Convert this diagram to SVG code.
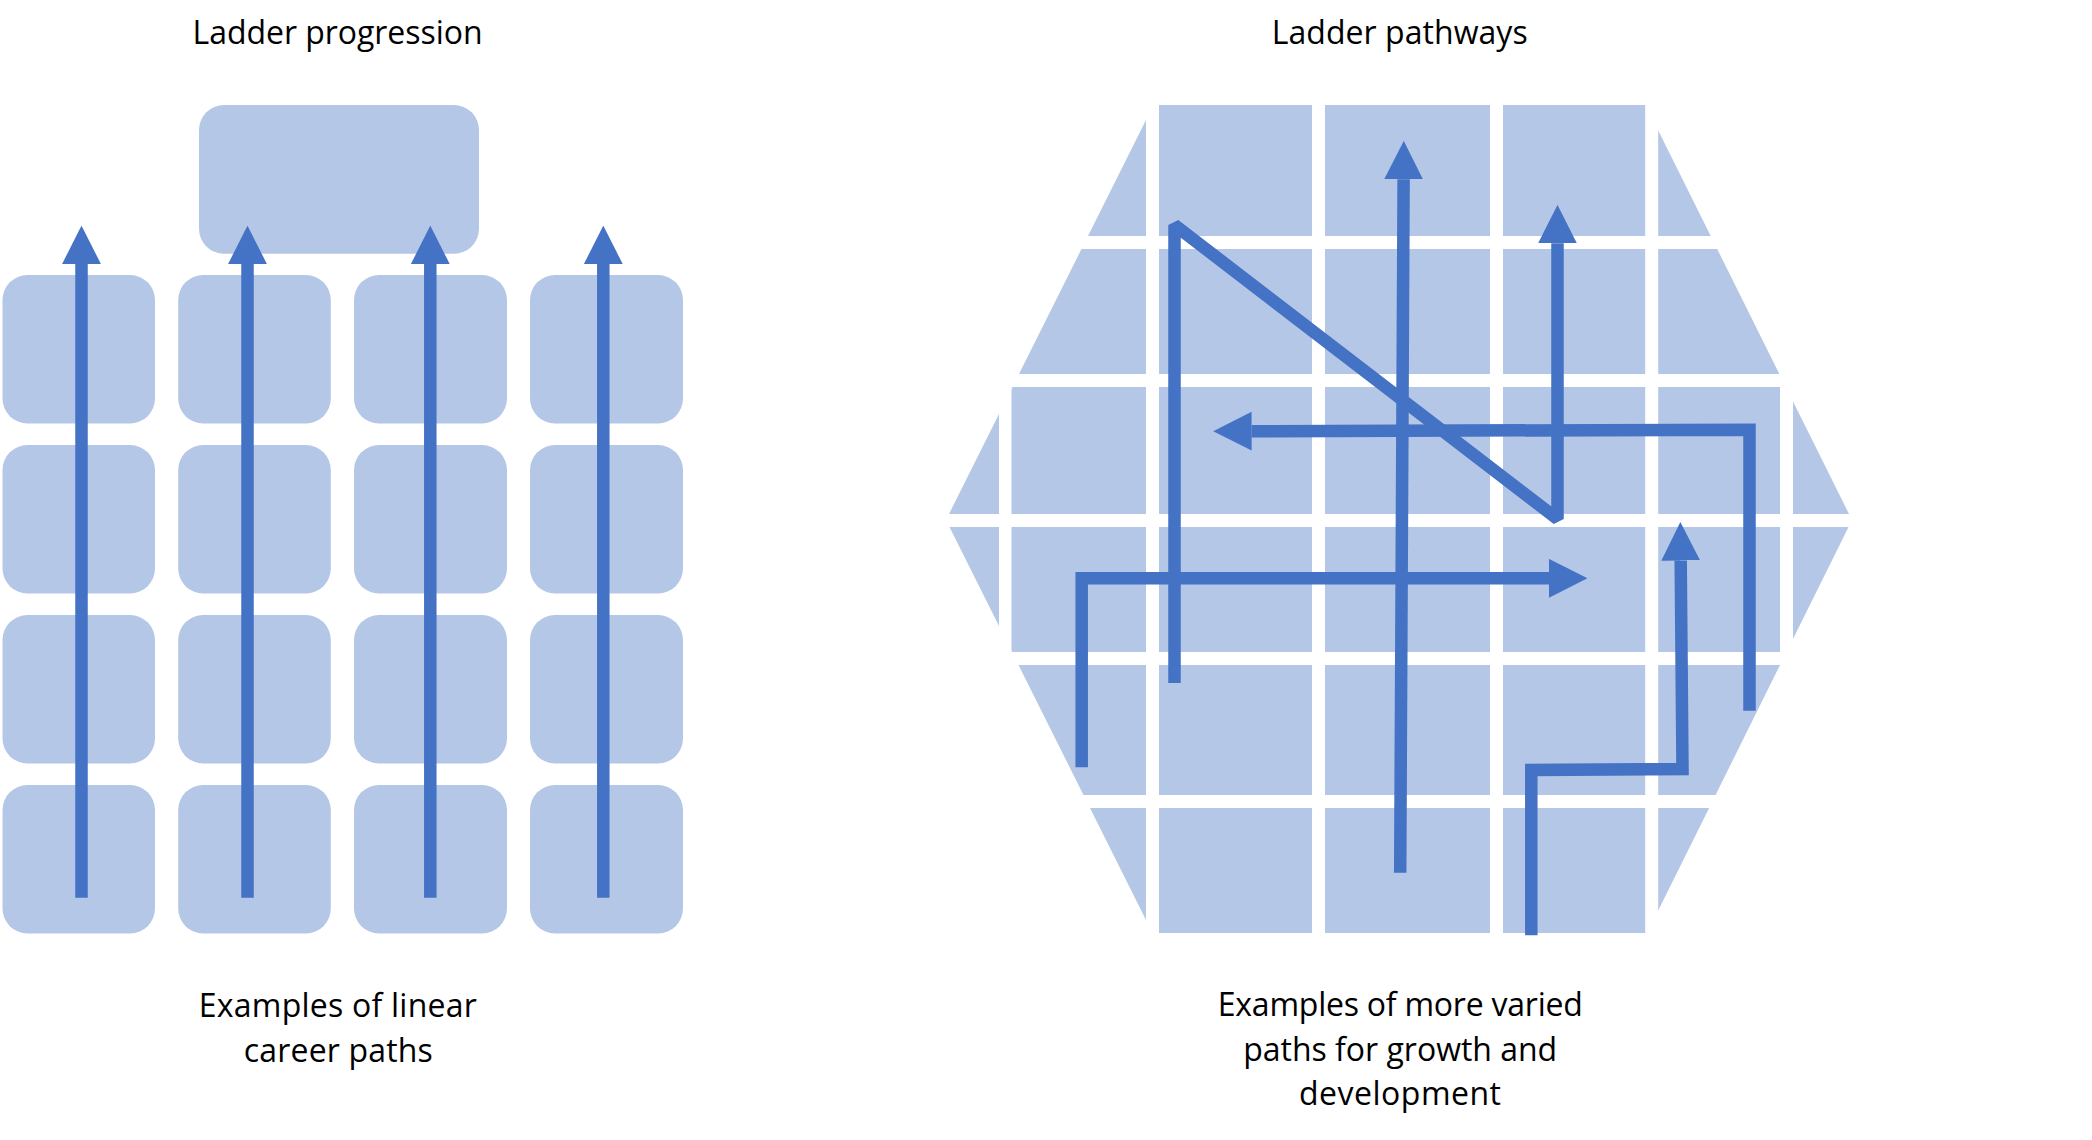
<svg xmlns="http://www.w3.org/2000/svg" width="2092" height="1140" viewBox="0 0 2092 1140">
<defs>
<style>
.box{fill:#B4C7E7;}
.gap{fill:#FFFFFF;}
.arrow{fill:none;stroke:#4472C4;stroke-width:12.5;stroke-linecap:butt;stroke-linejoin:miter;marker-end:url(#head);}
.lbl{font-family:"Open Sans","Liberation Sans",sans-serif;font-size:32px;fill:#000000;text-anchor:middle;}
</style>
<marker id="head" viewBox="0 0 38.4 38.8" refX="0" refY="19.4" markerWidth="38.4" markerHeight="38.8" markerUnits="userSpaceOnUse" orient="auto">
<path d="M0,0 L38.4,19.4 L0,38.8 Z" fill="#4472C4"/>
</marker>
</defs>
<rect width="2092" height="1140" fill="#FFFFFF"/>

<g id="titles">
<text class="lbl" x="337.5" y="44" textLength="290" lengthAdjust="spacing">Ladder progression</text>
<text class="lbl" x="1399.7" y="44" textLength="256" lengthAdjust="spacing">Ladder pathways</text>
</g>

<g id="ladder-progression">
<g id="top-box"><rect class="box" x="199" y="105" width="280" height="148.7" rx="25" ry="25"/></g>
<g id="col1">
<rect class="box" x="2.5" y="275" width="152.5" height="148.5" rx="25"/>
<rect class="box" x="2.5" y="445" width="152.5" height="148.5" rx="25"/>
<rect class="box" x="2.5" y="615" width="152.5" height="148.5" rx="25"/>
<rect class="box" x="2.5" y="785" width="152.5" height="148.5" rx="25"/>
</g>
<g id="col2">
<rect class="box" x="178.2" y="275" width="152.6" height="148.5" rx="25"/>
<rect class="box" x="178.2" y="445" width="152.6" height="148.5" rx="25"/>
<rect class="box" x="178.2" y="615" width="152.6" height="148.5" rx="25"/>
<rect class="box" x="178.2" y="785" width="152.6" height="148.5" rx="25"/>
</g>
<g id="col3">
<rect class="box" x="354" y="275" width="153" height="148.5" rx="25"/>
<rect class="box" x="354" y="445" width="153" height="148.5" rx="25"/>
<rect class="box" x="354" y="615" width="153" height="148.5" rx="25"/>
<rect class="box" x="354" y="785" width="153" height="148.5" rx="25"/>
</g>
<g id="col4">
<rect class="box" x="530" y="275" width="153" height="148.5" rx="25"/>
<rect class="box" x="530" y="445" width="153" height="148.5" rx="25"/>
<rect class="box" x="530" y="615" width="153" height="148.5" rx="25"/>
<rect class="box" x="530" y="785" width="153" height="148.5" rx="25"/>
</g>
</g>

<g id="ladder-pathways">
<polygon class="box" points="946,520 1146,120 1146,105 1658,105 1658,130 1852,520 1658,911 1658,933 1146,933 1146,920"/>
<g id="grid-gaps">
<rect class="gap" x="930" y="236" width="940" height="13"/>
<rect class="gap" x="930" y="374" width="940" height="13"/>
<rect class="gap" x="930" y="514" width="940" height="13"/>
<rect class="gap" x="930" y="652" width="940" height="13"/>
<rect class="gap" x="930" y="795" width="940" height="13"/>
<rect class="gap" x="999" y="95" width="12.5" height="850"/>
<rect class="gap" x="1146" y="95" width="13" height="850"/>
<rect class="gap" x="1312" y="95" width="13" height="850"/>
<rect class="gap" x="1490" y="95" width="13" height="850"/>
<rect class="gap" x="1645.2" y="95" width="13" height="850"/>
<rect class="gap" x="1780" y="95" width="13" height="850"/>
</g>
</g>

<g id="connectors">
<path class="arrow" d="M81.5,897.7 L81.5,264"/>
<path class="arrow" d="M247.5,897.7 L247.5,264"/>
<path class="arrow" d="M430.3,897.7 L430.3,264"/>
<path class="arrow" d="M603.3,897.7 L603.3,264"/>
<path class="arrow" style="stroke-linejoin:bevel" d="M1174.5,683 L1174.5,225 L1557.5,519 L1557.5,243.3"/>
<path class="arrow" d="M1400.2,872.7 L1403.6,179.3"/>
<path class="arrow" d="M1749.5,710.7 L1749.5,429.7 L1251.6,431.2"/>
<path class="arrow" d="M1081.7,767.3 L1081.7,578.3 L1549,578.3"/>
<path class="arrow" d="M1531.3,935.3 L1531.3,770 L1682.5,769 L1680.7,560.5"/>
</g>

<g id="captions">
<text class="lbl" x="337.8" y="1016.7" textLength="278" lengthAdjust="spacing">Examples of linear</text>
<text class="lbl" x="338.3" y="1061.5" textLength="189" lengthAdjust="spacing">career paths</text>
<text class="lbl" x="1400.3" y="1016" textLength="365" lengthAdjust="spacing">Examples of more varied</text>
<text class="lbl" x="1400.2" y="1060.5" textLength="314" lengthAdjust="spacing">paths for growth and</text>
<text class="lbl" x="1400" y="1105" textLength="202" lengthAdjust="spacing">development</text>
</g>
</svg>
